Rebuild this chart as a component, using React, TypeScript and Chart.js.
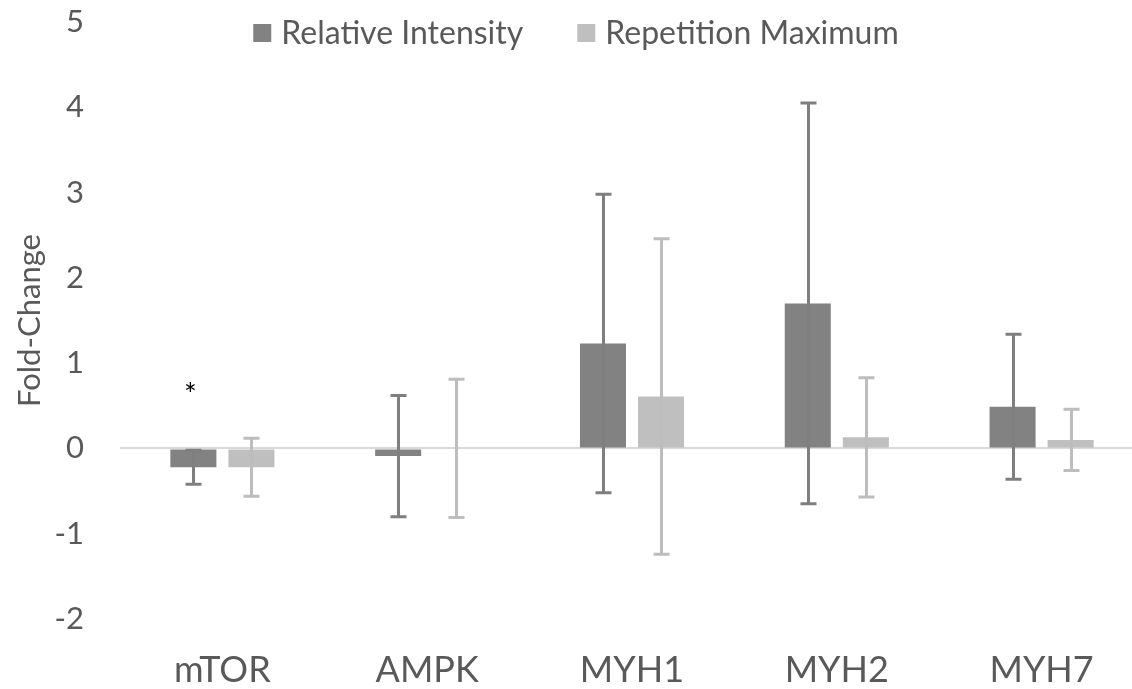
import React, { useEffect, useRef } from 'react';
import { Chart, registerables } from 'chart.js';

Chart.register(...registerables);

const categories = ['mTOR', 'AMPK', 'MYH1', 'MYH2', 'MYH7'];
const seriesNames = ['Relative Intensity', 'Repetition Maximum'];
const relativeIntensity = [-0.22, -0.09, 1.23, 1.70, 0.49];
const relativeIntensityErr = [0.20, 0.71, 1.75, 2.35, 0.85];
const repetitionMaximum = [-0.22, 0.0, 0.61, 0.13, 0.10];
const repetitionMaximumErr = [0.34, 0.81, 1.85, 0.70, 0.36];
const significance = ['*', '', '', '', ''];
const yMin = -2;
const yMax = 5;
const yStep = 1;
const yTitle = 'Fold-Change';

const FONT = 'Lato';
const TEXT = '#595959';
const DARK = '#828282';
const LIGHT = '#bfbfbf';
const DARK_ERR = '#7f7f7f';
const LIGHT_ERR = '#bdbdbd';

const errors = [relativeIntensityErr, repetitionMaximumErr];
const errColors = [DARK_ERR, LIGHT_ERR];

const errorBarPlugin = {
  id: 'errorBars',
  afterDatasetsDraw(chart: any) {
    const ctx = chart.ctx;
    const yScale = chart.scales.y;
    ctx.save();
    chart.data.datasets.forEach((ds: any, di: number) => {
      const meta = chart.getDatasetMeta(di);
      meta.data.forEach((bar: any, i: number) => {
        const v = ds.data[i];
        const e = errors[di][i];
        const top = yScale.getPixelForValue(v + e);
        const bot = yScale.getPixelForValue(v - e);
        const x = Math.round(bar.x) + 0.5;
        ctx.strokeStyle = errColors[di];
        ctx.lineWidth = 3;
        ctx.beginPath();
        ctx.moveTo(x, top);
        ctx.lineTo(x, bot);
        ctx.moveTo(x - 8, top);
        ctx.lineTo(x + 8, top);
        ctx.moveTo(x - 8, bot);
        ctx.lineTo(x + 8, bot);
        ctx.stroke();
      });
    });
    const meta0 = chart.getDatasetMeta(0);
    ctx.fillStyle = '#000000';
    ctx.font = `30px ${FONT}`;
    ctx.textAlign = 'center';
    ctx.textBaseline = 'alphabetic';
    significance.forEach((s, i) => {
      if (!s) return;
      const bar = meta0.data[i];
      ctx.fillText(s, bar.x - 3, yScale.getPixelForValue(0) - 43);
    });
    ctx.restore();
  },
};

const legendPlugin = {
  id: 'customLegend',
  afterDraw(chart: any) {
    const ctx = chart.ctx;
    ctx.save();
    ctx.font = `32px ${FONT}`;
    const box = 18;
    const gapBoxText = 10;
    const gapItems = 54;
    const widths = seriesNames.map((n) => ctx.measureText(n).width);
    const total = widths.reduce((a, w) => a + box + gapBoxText + w, 0) + gapItems;
    let x = 576 - total / 2;
    const cy = 33;
    const colors = [DARK, LIGHT];
    seriesNames.forEach((n, i) => {
      ctx.fillStyle = colors[i];
      ctx.fillRect(x, cy - box / 2, box, box);
      x += box + gapBoxText;
      ctx.fillStyle = TEXT;
      ctx.textAlign = 'left';
      ctx.textBaseline = 'middle';
      ctx.fillText(n, x, cy + 1);
      x += widths[i] + gapItems;
    });
    ctx.restore();
  },
};

export default function App() {
  const ref = useRef<HTMLCanvasElement>(null);
  useEffect(() => {
    document.body.style.overflow = 'hidden';
    const chart = new Chart(ref.current as HTMLCanvasElement, {
      type: 'bar',
      data: {
        labels: categories,
        datasets: [
          {
            label: seriesNames[0],
            data: relativeIntensity,
            backgroundColor: DARK,
            categoryPercentage: 0.567,
            barPercentage: 0.793,
          },
          {
            label: seriesNames[1],
            data: repetitionMaximum,
            backgroundColor: LIGHT,
            categoryPercentage: 0.567,
            barPercentage: 0.793,
          },
        ],
      },
      options: {
        animation: false,
        responsive: false,
        layout: { padding: { top: 22, left: 0, right: 0, bottom: 0 } },
        plugins: {
          legend: { display: false },
          tooltip: { enabled: false },
        },
        scales: {
          x: {
            grid: { display: false },
            border: { display: false },
            ticks: {
              color: TEXT,
              font: { family: FONT, size: 36 },
              padding: 22,
            },
            afterFit: (s: any) => {
              s.height = 70;
              s.paddingLeft = 0;
              s.paddingRight = 0;
            },
          },
          y: {
            min: yMin,
            max: yMax,
            border: { display: false },
            grid: {
              drawTicks: false,
              lineWidth: 2,
              color: (c: any) => (c.tick && c.tick.value === 0 ? '#d9d9d9' : 'rgba(0,0,0,0)'),
            },
            ticks: {
              stepSize: yStep,
              color: TEXT,
              font: { family: FONT, size: 31 },
              padding: 36,
            },
            title: {
              display: true,
              text: yTitle,
              color: TEXT,
              font: { family: FONT, size: 31 },
              padding: { top: 11, bottom: 0 },
            },
            afterFit: (s: any) => {
              s.width = 120;
              s.paddingTop = 0;
              s.paddingBottom = 0;
            },
          },
        },
      },
      plugins: [errorBarPlugin, legendPlugin],
    } as any);
    return () => chart.destroy();
  }, []);
  return (
    <div style={{ position: 'fixed', left: 0, top: 0, width: 1144, height: 689, background: '#fff' }}>
      <canvas ref={ref} width={1144} height={689} style={{ display: 'block' }} />
    </div>
  );
}
